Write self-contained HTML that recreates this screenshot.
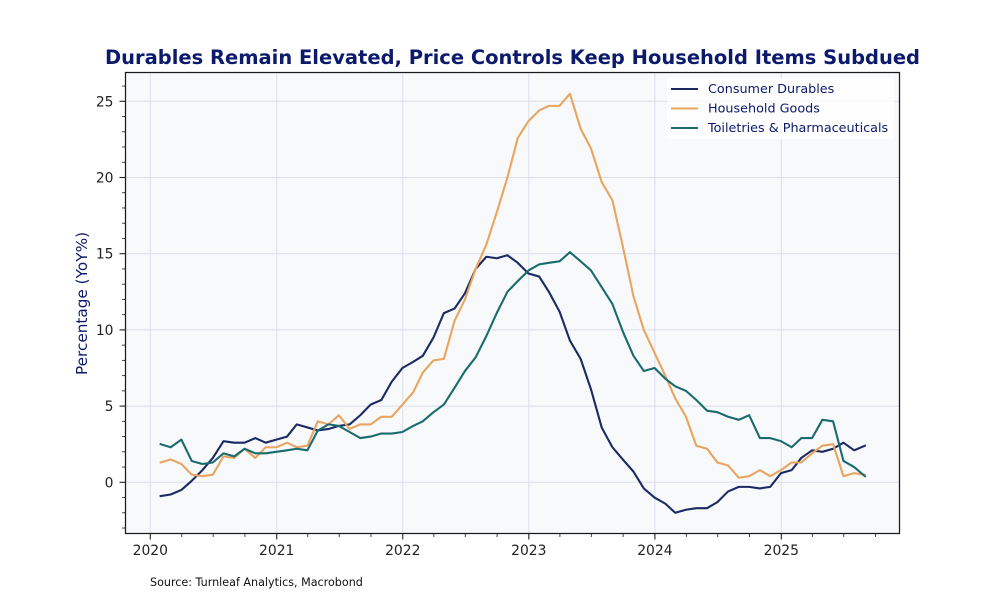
<!DOCTYPE html>
<html lang="en">
<head>
<meta charset="utf-8">
<title>Durables Remain Elevated, Price Controls Keep Household Items Subdued</title>
<style>
html,body{margin:0;padding:0;background:#fff;width:1000px;height:600px;overflow:hidden}
svg{display:block;font-family:"DejaVu Sans","Liberation Sans",sans-serif}
</style>
</head>
<body>
<svg id="chart" width="1000" height="600" viewBox="0 0 1000 600" xmlns="http://www.w3.org/2000/svg">
  <rect x="0" y="0" width="1000" height="600" fill="#ffffff"/>
  <rect x="125.5" y="72.5" width="774" height="461" fill="#f8f9fb"/>
  <g id="grid"></g>
  <g id="series"></g>
  <g id="legend">
    <rect x="667" y="78" width="227" height="61" rx="2" fill="#ffffff" fill-opacity="0.8"/>
  </g>
  <rect x="125.5" y="72.5" width="774" height="461" fill="none" stroke="#1a1a1a" stroke-width="1.25"/>
  <g id="ticks"></g>
  <text x="512.5" y="64" text-anchor="middle" font-size="19.49" font-weight="700" fill="#0b1a6b">Durables Remain Elevated, Price Controls Keep Household Items Subdued</text>
  <text transform="translate(87 303.5) rotate(-90)" text-anchor="middle" font-size="15.28" fill="#0b1a6b">Percentage (YoY%)</text>
  <text x="150" y="586" font-size="11.15" fill="#111111">Source: Turnleaf Analytics, Macrobond</text>
</svg>
<script>
const startYear = 2020;
const months = [
  "2020-01","2020-02","2020-03","2020-04","2020-05","2020-06","2020-07","2020-08","2020-09","2020-10","2020-11","2020-12",
  "2021-01","2021-02","2021-03","2021-04","2021-05","2021-06","2021-07","2021-08","2021-09","2021-10","2021-11","2021-12",
  "2022-01","2022-02","2022-03","2022-04","2022-05","2022-06","2022-07","2022-08","2022-09","2022-10","2022-11","2022-12",
  "2023-01","2023-02","2023-03","2023-04","2023-05","2023-06","2023-07","2023-08","2023-09","2023-10","2023-11","2023-12",
  "2024-01","2024-02","2024-03","2024-04","2024-05","2024-06","2024-07","2024-08","2024-09","2024-10","2024-11","2024-12",
  "2025-01","2025-02","2025-03","2025-04","2025-05","2025-06","2025-07","2025-08"
];
const consumerDurables = [
  -0.9,-0.8,-0.5,0.1,0.8,1.6,2.7,2.6,2.6,2.9,2.6,2.8,
  3.0,3.8,3.6,3.4,3.5,3.7,3.8,4.4,5.1,5.4,6.6,7.5,
  7.9,8.3,9.5,11.1,11.4,12.4,14.0,14.8,14.7,14.9,14.4,13.7,
  13.5,12.5,11.2,9.3,8.1,6.1,3.6,2.3,1.5,0.7,-0.4,-1.0,
  -1.4,-2.0,-1.8,-1.7,-1.7,-1.3,-0.6,-0.3,-0.3,-0.4,-0.3,0.6,
  0.8,1.6,2.1,2.0,2.2,2.6,2.1,2.4
];
const householdGoods = [
  1.3,1.5,1.2,0.5,0.4,0.5,1.7,1.6,2.2,1.6,2.3,2.3,
  2.6,2.3,2.4,4.0,3.8,4.4,3.5,3.8,3.8,4.3,4.3,5.1,
  5.9,7.2,8.0,8.1,10.6,12.0,14.0,15.6,17.7,20.0,22.6,23.7,
  24.4,24.7,24.7,25.5,23.2,21.9,19.7,18.5,15.5,12.2,10.0,8.5,
  7.0,5.5,4.3,2.4,2.2,1.3,1.1,0.3,0.4,0.8,0.4,0.8,
  1.3,1.3,1.9,2.4,2.5,0.4,0.6,0.5
];
const toiletriesPharma = [
  2.5,2.3,2.8,1.4,1.2,1.3,1.9,1.7,2.2,1.9,1.9,2.0,
  2.1,2.2,2.1,3.4,3.8,3.7,3.3,2.9,3.0,3.2,3.2,3.3,
  3.7,4.0,4.6,5.1,6.2,7.3,8.2,9.6,11.1,12.5,13.2,13.9,
  14.3,14.4,14.5,15.1,14.5,13.9,12.8,11.7,9.9,8.3,7.3,7.5,
  6.8,6.3,6.0,5.4,4.7,4.6,4.3,4.1,4.4,2.9,2.9,2.7,
  2.3,2.9,2.9,4.1,4.0,1.4,1.0,0.4
];
const yTickLabels = [0,5,10,15,20,25];
const yMinorValues = [-3,-2,-1,1,2,3,4,6,7,8,9,11,12,13,14,16,17,18,19,21,22,23,24,26];
const xTickYears = [2020,2021,2022,2023,2024,2025];
const xMinorMonths = [
  "2020-04","2020-07","2020-10","2021-04","2021-07","2021-10","2022-04","2022-07","2022-10",
  "2023-04","2023-07","2023-10","2024-04","2024-07","2024-10","2025-04","2025-07","2025-10"
];
const seriesNames = ["Consumer Durables","Household Goods","Toiletries & Pharmaceuticals"];
const seriesValues = [consumerDurables,householdGoods,toiletriesPharma];
const seriesColors = ["#1b2a63","#e8a55f","#1a6b70"];

const NS = "http://www.w3.org/2000/svg";
const plot = {left:125.5,right:899.5,top:72.5,bottom:533.5};
const DAY = 86400000;
function dayOffset(d){return (d - Date.UTC(startYear,0,1)) / DAY;}
function xAt(d){return 150.3 + dayOffset(d) * 0.34537;}
function yAt(v){return 482.3 - v * 15.24;}
function monthEnd(m){const p=m.split("-");return Date.UTC(+p[0],+p[1],0);}
function monthStart(m){const p=m.split("-");return Date.UTC(+p[0],+p[1]-1,1);}
function mk(tag,attrs,parent){
  const el=document.createElementNS(NS,tag);
  for(const k in attrs){el.setAttribute(k,attrs[k]);}
  parent.appendChild(el);
  return el;
}
const gridG=document.getElementById("grid");
const tickG=document.getElementById("ticks");
const seriesG=document.getElementById("series");
const legendG=document.getElementById("legend");
const tickColor="#222222";
const gridColor="#dcdfeb";

yTickLabels.forEach(function(v){
  const y=yAt(v);
  const g=mk("line",{x1:plot.left,x2:plot.right,y1:y,y2:y,stroke:gridColor,"stroke-width":1},gridG);
  
  
  const t=mk("line",{x1:plot.left-6,x2:plot.left,y1:y,y2:y,stroke:tickColor,"stroke-width":1.1},tickG);
  
  
  const l=mk("text",{x:plot.left-12,y:y+5,"text-anchor":"end","font-size":13.89,fill:"#222222"},tickG);
  
  
  l.textContent=String(v);
});
yMinorValues.forEach(function(v){
  const y=yAt(v);
  const t=mk("line",{x1:plot.left-3.5,x2:plot.left,y1:y,y2:y,stroke:tickColor,"stroke-width":0.85},tickG);
  
  
});
xTickYears.forEach(function(yr){
  const x=xAt(Date.UTC(yr,0,1));
  const g=mk("line",{x1:x,x2:x,y1:plot.top,y2:plot.bottom,stroke:gridColor,"stroke-width":1},gridG);
  
  
  const t=mk("line",{x1:x,x2:x,y1:plot.bottom,y2:plot.bottom+6,stroke:tickColor,"stroke-width":1.1},tickG);
  
  
  const l=mk("text",{x:x,y:plot.bottom+21.7,"text-anchor":"middle","font-size":13.89,fill:"#222222"},tickG);
  
  
  l.textContent=String(yr);
});
xMinorMonths.forEach(function(m){
  const x=xAt(monthStart(m));
  const t=mk("line",{x1:x,x2:x,y1:plot.bottom,y2:plot.bottom+3.5,stroke:tickColor,"stroke-width":0.85},tickG);
  
  
});
seriesValues.forEach(function(vals,i){
  const pts=vals.map(function(v,j){return xAt(monthEnd(months[j])).toFixed(2)+","+yAt(v).toFixed(2);}).join(" ");
  const p=mk("polyline",{points:pts,fill:"none",stroke:seriesColors[i],"stroke-width":2.1,"stroke-linejoin":"round","stroke-linecap":"square"},seriesG);
  
  
  const ly=[89,108.5,128][i];
  const k=mk("line",{x1:671,x2:698,y1:ly,y2:ly,stroke:seriesColors[i],"stroke-width":2.1},legendG);
  
  
  const t=mk("text",{x:708,y:ly+4.2,"font-size":12.78,fill:"#0b1a6b"},legendG);
  
  
  t.textContent=seriesNames[i];
});
</script>
</body>
</html>
